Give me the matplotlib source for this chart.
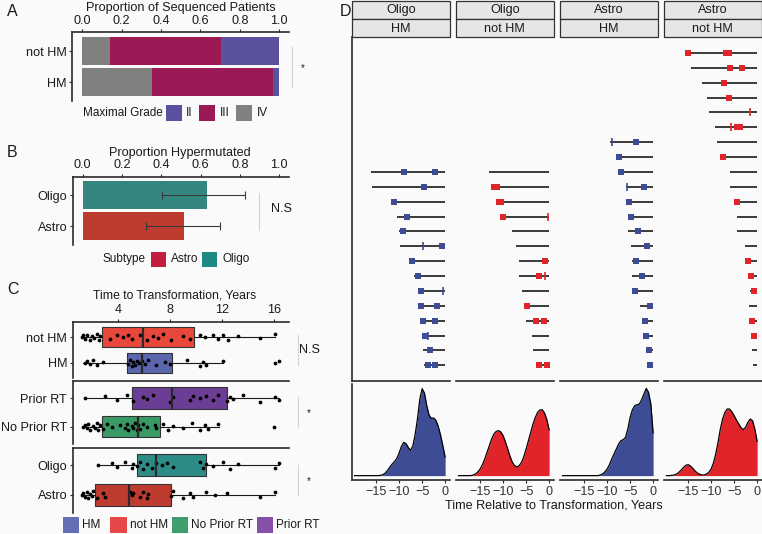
import matplotlib
matplotlib.use("Agg")
import matplotlib.pyplot as plt
from matplotlib.patches import Rectangle
from matplotlib.lines import Line2D

plt.rcParams['font.family'] = ['Liberation Sans', 'DejaVu Sans']
FS = 9.1
LFS = 8.5
plt.rcParams['font.size'] = FS

W, H = 762, 534
BG = '#FAFAFA'
TXT = '#1a1a1a'
AXC = '#2b2b2b'

# ---------------- Panel A data ----------------
a_groups = ['HM', 'not HM']
grade_labels = ['II', 'III', 'IV']
grade_IV = [0.354, 0.139]
grade_III = [0.616, 0.565]
grade_II = [0.030, 0.296]

# ---------------- Panel B data ----------------
b_groups = ['Astro', 'Oligo']
prop_hyper = [0.515, 0.635]
ci_low = [0.324, 0.404]
ci_high = [0.701, 0.826]

# ---------------- Panel C data ----------------
c_ticks = [4, 8, 12, 16]
# box statistics: q1, median, q3, whisker low, whisker high
box_not_hm = [2.72, 5.92, 9.83, 1.14, 16.05]
box_hm = [4.67, 5.79, 8.10, 1.31, 12.06]
box_prior_rt = [5.03, 8.14, 12.32, 1.44, 16.36]
box_no_prior_rt = [2.75, 5.54, 7.20, 1.19, 11.73]
box_oligo = [5.41, 6.89, 10.73, 2.47, 16.36]
box_astro = [2.21, 4.85, 8.02, 1.19, 16.03]

pts_not_hm = [1.19, 1.32, 1.47, 1.62, 1.83, 1.95, 2.16, 2.34, 2.49, 2.59, 3.36, 3.87, 4.39,
              4.77, 5.03, 5.66, 6.18, 6.69, 7.07, 7.45, 8.09, 8.99, 9.5, 10.27, 10.65, 11.29,
              11.68, 12.06, 12.44, 13.21, 14.87, 16.05]
pts_hm = [1.44, 1.62, 1.83, 2.03, 2.34, 2.85, 4.77, 4.9, 5.03, 5.15, 5.28, 5.41, 5.61, 5.79,
          6.05, 6.3, 6.94, 7.58, 7.97, 9.25, 10.27, 10.53, 10.78, 12.06, 16.05, 16.36]
pts_prior_rt = [1.44, 2.98, 3.87, 4.64, 5.15, 5.92, 6.18, 6.69, 7.97, 8.17, 9.5, 9.76, 10.27,
                10.78, 11.29, 11.68, 12.32, 12.57, 12.83, 13.59, 14.87, 16.03, 16.36]
pts_no_prior_rt = [1.32, 1.44, 1.57, 1.70, 1.83, 2.03, 2.21, 2.34, 2.47, 2.59, 2.85, 3.11, 3.49,
                   4.13, 4.51, 4.64, 4.77, 5.03, 5.15, 5.28, 5.41, 5.54, 5.66, 5.92, 6.18, 6.82,
                   6.94, 7.45, 7.84, 8.22, 8.99, 9.63, 10.27, 10.65, 10.91, 11.68, 16.0]
pts_oligo = [2.47, 3.49, 3.87, 4.51, 5.03, 5.15, 5.41, 5.66, 5.92, 6.18, 6.56, 6.94, 7.33, 7.71,
             8.22, 10.27, 10.53, 10.78, 11.29, 12.06, 12.57, 13.21, 16.03, 16.36]
pts_astro = [1.19, 1.32, 1.44, 1.57, 1.70, 1.83, 1.95, 2.08, 2.34, 2.85, 2.98, 4.9, 5.03, 5.15,
             5.66, 5.92, 6.18, 6.3, 8.09, 8.22, 8.99, 9.5, 9.76, 10.78, 11.42, 12.32, 14.87, 16.03]

# ---------------- Panel D data ----------------
facet_subtype = ['Oligo', 'Oligo', 'Astro', 'Astro']
facet_hm = ['HM', 'not HM', 'HM', 'not HM']
d_ticks = [-15, -10, -5, 0]

oligo_hm_start = [-16.1, -15.8, -11.8, -10.5, -10.1, -9.9, -7.6, -6.7, -5.9, -5.8, -5.4, -4.9, -4.9, -4.6]
oligo_hm_samples = [[-9.0, -2.3], [-4.7], [-11.2], [-8.3], [-9.2], [-0.7], [-7.2], [-5.9], [-5.2],
                    [-5.3, -1.7], [-4.9, -2.2], [-4.4], [-3.3], [-3.8, -2.1]]
oligo_hm_other = [[], [], [], [], [], [-4.9], [], [], [-0.5], [], [], [-3.8], [], []]

oligo_nhm_start = [-13.0, -12.4, -11.3, -10.4, -8.1, -7.2, -6.6, -6.6, -5.8, -5.5, -5.1, -3.8, -3.5, -2.6]
oligo_nhm_samples = [[], [-12.0, -11.3], [-11.0, -10.5], [-10.0], [], [], [-0.9], [-2.3], [], [-4.9],
                     [-2.8, -1.1], [], [], [-2.1, -0.5]]
oligo_nhm_other = [[], [], [], [-0.3], [], [], [], [-1.0], [], [], [], [], [], []]

astro_hm_start = [-9.3, -7.7, -7.4, -5.9, -5.7, -5.3, -5.5, -4.8, -4.5, -4.5, -4.2, -2.8, -2.3, -2.0, -1.6, -1.2]
astro_hm_samples = [[-3.8], [-7.4], [-7.0], [-2.0], [-5.2], [-4.8], [-3.2], [-1.4], [-3.8], [-2.5],
                    [-3.9], [-0.7], [-1.8], [-1.6], [-0.9], [-0.7]]
astro_hm_other = [[-9.0], [], [], [-5.6], [], [], [], [], [], [], [], [], [], [], [], []]

astro_nhm_start = [-15.3, -14.4, -12.0, -10.9, -10.4, -9.2, -8.7, -7.8, -5.9, -5.8, -4.7, -4.4, -4.3,
                   -2.7, -2.5, -2.0, -1.6, -1.7, -1.6, -1.2, -1.2, -1.0]
astro_nhm_samples = [[-15.0, -6.7, -6.1], [-5.8, -3.2], [-7.1], [-6.2], [], [-4.4, -3.7], [], [-7.4],
                     [], [], [-4.3], [], [], [], [-1.9], [-1.4], [-0.7], [], [-1.1], [-0.6], [], []]
astro_nhm_other = [[], [], [], [], [-1.5], [-5.6], [], [], [], [], [], [], [], [], [], [], [], [], [], [], [], []]

dens_x = [-19.7, -19.0, -18.5, -18.0, -17.5, -17.0, -16.5, -16.0, -15.5, -15.0, -14.5, -14.0,
          -13.5, -13.0, -12.5, -12.0, -11.5, -11.0, -10.5, -10.0, -9.5, -9.0, -8.5, -8.0,
          -7.5, -7.0, -6.5, -6.0, -5.5, -5.0, -4.5, -4.0, -3.5, -3.0, -2.5, -2.0, -1.5, -1.0,
          -0.5, 0.0]
dens_oligo_hm = [0, 0, 0, 0, 0, 0, 0, 0, 0, 0, 0, 1,
                 3, 8, 16, 26, 35, 42, 52, 68, 88, 100, 96, 84,
                 76, 90, 125, 172, 230, 261, 248, 210, 182, 172, 173, 166, 148, 122,
                 90, 56]
dens_oligo_nhm = [0, 0, 0, 0, 0, 0, 2, 5, 11, 20, 33, 50,
                  70, 90, 110, 125, 133, 135, 131, 120, 101, 80, 58, 40,
                  30, 26, 30, 40, 57, 80, 105, 130, 155, 175, 190, 197, 198, 188,
                  168, 138]
dens_astro_hm = [0, 0, 0, 0, 0, 0, 0, 0, 0, 0, 0, 0,
                 0, 0, 0, 0, 2, 5, 11, 20, 33, 50, 65, 80,
                 95, 105, 108, 115, 140, 175, 198, 210, 213, 215, 228, 245, 262, 250,
                 215, 128]
dens_astro_nhm = [0, 0, 1, 2, 5, 10, 17, 25, 31, 33, 29, 22,
                  14, 8, 4, 2, 2, 5, 10, 20, 38, 65, 100, 140,
                  170, 190, 200, 200, 192, 180, 167, 155, 144, 138, 145, 160, 170, 165,
                  140, 103]

# ---------------- helpers ----------------
fig = plt.figure(figsize=(W / 100, H / 100), dpi=100, facecolor=BG)


def ax_px(x0, y0, x1, y1):
    ax = fig.add_axes([x0 / W, 1 - y1 / H, (x1 - x0) / W, (y1 - y0) / H])
    ax.set_facecolor('none')
    return ax


def rect_px(x0, y0, x1, y1, fc, ec='none', lw=0):
    fig.add_artist(Rectangle((x0 / W, 1 - y1 / H), (x1 - x0) / W, (y1 - y0) / H,
                             transform=fig.transFigure, facecolor=fc, edgecolor=ec, linewidth=lw))


def text_px(x, y, s, ha='center', va='center', **kw):
    kw.setdefault('color', TXT)
    fig.text(x / W, 1 - y / H, s, ha=ha, va=va, **kw)


def vline_px(x, y0, y1, color='#d4d4d4', lw=0.8):
    fig.add_artist(Line2D([x / W, x / W], [1 - y0 / H, 1 - y1 / H], transform=fig.transFigure,
                          color=color, linewidth=lw))


def style_lt(ax, top=True):
    for s in ['right', 'bottom']:
        ax.spines[s].set_visible(False)
    ax.spines['left'].set_color(AXC)
    ax.spines['left'].set_linewidth(1.2)
    ax.spines['top'].set_color(AXC)
    ax.spines['top'].set_linewidth(1.2)
    ax.spines['top'].set_visible(top)
    ax.tick_params(axis='both', colors=AXC, labelcolor=TXT, length=2.5, width=0.8, pad=1.5,
                   labelsize=FS)


# ================= Panel A =================
text_px(7, 11, 'A', ha='left', fontsize=11.5)
axA = ax_px(72.4, 32.3, 289, 100.9)
ya = [1, 2]
c_IV, c_III, c_II = '#808080', '#9B1A55', '#5B529F'
axA.barh(ya, grade_IV, left=0, height=0.9, color=c_IV)
axA.barh(ya, grade_III, left=grade_IV, height=0.9, color=c_III)
axA.barh(ya, grade_II, left=[a + b for a, b in zip(grade_IV, grade_III)], height=0.9, color=c_II)
axA.set_xlim(-0.05, 1.05)
axA.set_ylim(0.4, 2.6)
axA.set_yticks(ya)
axA.set_yticklabels(a_groups)
axA.xaxis.tick_top()
axA.set_xticks([0, 0.2, 0.4, 0.6, 0.8, 1.0])
axA.set_xticklabels(['0.0', '0.2', '0.4', '0.6', '0.8', '1.0'])
style_lt(axA)
text_px(180.7, 7.5, 'Proportion of Sequenced Patients')
vline_px(292, 47, 87)
text_px(303, 68, '*', fontsize=7)
text_px(83, 112.5, 'Maximal Grade', ha='left', fontsize=LFS)
for (x0, lab, col) in [(165.7, 'II', c_II), (199.5, 'III', c_III), (236, 'IV', c_IV)]:
    rect_px(x0, 105, x0 + 16, 120.5, col)
    text_px(x0 + 20.5, 112.5, lab, ha='left', fontsize=LFS)

# ================= Panel B =================
text_px(7, 153, 'B', ha='left', fontsize=11.5)
axB = ax_px(72.7, 176.7, 289, 244.7)
yb = [1, 2]
axB.barh(yb, prop_hyper, height=0.9, color=['#BE3B30', '#33877F'])
axB.errorbar(prop_hyper, yb, xerr=[[p - l for p, l in zip(prop_hyper, ci_low)],
                                    [h - p for p, h in zip(prop_hyper, ci_high)]],
             fmt='none', ecolor='#3a3a3a', elinewidth=0.8, capsize=3, capthick=0.8)
axB.set_xlim(-0.05, 1.05)
axB.set_ylim(0.4, 2.6)
axB.set_yticks(yb)
axB.set_yticklabels(b_groups)
axB.xaxis.tick_top()
axB.set_xticks([0, 0.2, 0.4, 0.6, 0.8, 1.0])
axB.set_xticklabels(['0.0', '0.2', '0.4', '0.6', '0.8', '1.0'])
style_lt(axB)
text_px(180, 153, 'Proportion Hypermutated')
vline_px(259.3, 193, 230)
text_px(281, 209, 'N.S')
text_px(102.7, 259.3, 'Subtype', ha='left', fontsize=LFS)
rect_px(150.7, 251.7, 166.3, 267, '#C21F3F')
text_px(170.7, 259.3, 'Astro', ha='left', fontsize=LFS)
rect_px(201.7, 251.7, 217.3, 267, '#1E8A83')
text_px(222.7, 259.3, 'Oligo', ha='left', fontsize=LFS)

# ================= Panel C =================
text_px(7, 290, 'C', ha='left', fontsize=11.5)
text_px(175, 296, 'Time to Transformation, Years', fontsize=8.8)
jit = [0.0, 0.07, -0.06, 0.1, -0.1, 0.03, -0.03, 0.12, -0.12, 0.05, -0.08, 0.09]
c_sub = [
    (321.7, 378.3, ['HM', 'not HM'], [box_hm, box_not_hm], [pts_hm, pts_not_hm],
     ['#5A66AD', '#E8483B'], 'N.S', True),
    (381.0, 443.8, ['No Prior RT', 'Prior RT'], [box_no_prior_rt, box_prior_rt],
     [pts_no_prior_rt, pts_prior_rt], ['#3A9A66', '#6C3D94'], '*', False),
    (447.7, 512.5, ['Astro', 'Oligo'], [box_astro, box_oligo], [pts_astro, pts_oligo],
     ['#BE3B30', '#2E8C86'], '*', False),
]
for (y0, y1, labs, boxes, pts, cols, sig, show_ticks) in c_sub:
    ax = ax_px(72.7, y0, 288.7, y1)
    stats = []
    for b in boxes:
        stats.append({'q1': b[0], 'med': b[1], 'q3': b[2], 'whislo': b[3], 'whishi': b[4],
                      'fliers': []})
    bp = ax.bxp(stats, positions=[1, 2], widths=0.75, orientation='horizontal',
                patch_artist=True, showcaps=False, showfliers=False,
                boxprops=dict(edgecolor='#333333', linewidth=0.8),
                whiskerprops=dict(color='#1a1a1a', linewidth=0.8),
                medianprops=dict(color='#2a2a2a', linewidth=1.6))
    for patch, c in zip(bp['boxes'], cols):
        patch.set_facecolor(c)
    for i, p in enumerate(pts):
        ys = [i + 1 + jit[k % len(jit)] for k in range(len(p))]
        ax.plot(p, ys, 'o', color='black', ms=2.7, mew=0)
    ax.set_xlim(0.5, 17.1)
    ax.set_ylim(0.4, 2.6)
    ax.set_yticks([1, 2])
    ax.set_yticklabels(labs)
    ax.xaxis.tick_top()
    style_lt(ax)
    if show_ticks:
        ax.set_xticks(c_ticks)
    else:
        ax.set_xticks([])
    fy = [(y0 + y1) / 2 - 15, (y0 + y1) / 2 + 15]
    vline_px(297.7, fy[0], fy[1])
    text_px(309, (y0 + y1) / 2 + (0 if sig == 'N.S' else 1), sig,
            fontsize=FS if sig == 'N.S' else 7)

for (x0, lab, col) in [(62.7, 'HM', '#6470B3'), (110.2, 'not HM', '#E54848'),
                       (171.7, 'No Prior RT', '#3E9E6C'), (256.7, 'Prior RT', '#864FA8')]:
    rect_px(x0, 517, x0 + 16.5, 533, col)
    text_px(x0 + 19.5, 525, lab, ha='left', fontsize=LFS)

# ================= Panel D =================
text_px(340, 12, 'D', ha='left', fontsize=11.5)
lefts = [352, 456, 560, 664]
fw = 97.5
starts = [oligo_hm_start, oligo_nhm_start, astro_hm_start, astro_nhm_start]
samples = [oligo_hm_samples, oligo_nhm_samples, astro_hm_samples, astro_nhm_samples]
others = [oligo_hm_other, oligo_nhm_other, astro_hm_other, astro_nhm_other]
dens = [dens_oligo_hm, dens_oligo_nhm, dens_astro_hm, dens_astro_nhm]
blue, red = '#3D4C95', '#E1232A'
fcols = [blue, red, blue, red]
dmax = max(max(d) for d in dens)

for f in range(4):
    x0 = lefts[f]
    # strips
    rect_px(x0, 1, x0 + fw, 19, '#E6E6E6', ec='#333333', lw=0.9)
    rect_px(x0, 19, x0 + fw, 37.3, '#E6E6E6', ec='#333333', lw=0.9)
    text_px(x0 + fw / 2, 10.3, facet_subtype[f], fontsize=FS)
    text_px(x0 + fw / 2, 28.5, facet_hm[f], fontsize=FS)

    # swimmer
    ax = ax_px(x0, 37.3, x0 + fw, 381)
    n = len(starts[f])
    for k in range(n):
        y = n - k
        ax.plot([starts[f][k], 0], [y, y], color='#1a1a1a', lw=1.2, solid_capstyle='butt', zorder=1)
        if samples[f][k]:
            ax.plot(samples[f][k], [y] * len(samples[f][k]), 's', color=fcols[f], ms=4.3, mew=0,
                    zorder=3)
        if others[f][k]:
            ax.plot(others[f][k], [y] * len(others[f][k]), '|', color=fcols[f], ms=5.5, mew=1.2,
                    zorder=3)
    ax.set_xlim(-20.25, 0.95)
    ax.set_ylim(-0.05, 23.05)
    ax.set_xticks([])
    ax.set_yticks([])
    for s in ['top', 'right']:
        ax.spines[s].set_visible(False)
    ax.spines['left'].set_visible(f == 0)
    for s in ['left', 'bottom']:
        ax.spines[s].set_color(AXC)
        ax.spines[s].set_linewidth(1.2)

    # density
    axd = ax_px(x0, 384, x0 + fw, 480)
    axd.fill_between(dens_x, dens[f], 0, color=fcols[f], lw=0)
    axd.plot(dens_x, dens[f], color='black', lw=0.9)
    axd.set_xlim(-20.25, 0.95)
    axd.set_ylim(-0.05 * dmax, 1.05 * dmax)
    axd.set_yticks([])
    axd.set_xticks(d_ticks)
    axd.set_xticklabels(['\u221215', '\u221210', '\u22125', '0'])
    axd.tick_params(axis='x', colors=AXC, labelcolor='#333333', length=2.5, width=0.8, pad=2,
                    labelsize=FS)
    for s in ['top', 'right']:
        axd.spines[s].set_visible(False)
    axd.spines['left'].set_visible(f == 0)
    for s in ['left', 'bottom']:
        axd.spines[s].set_color(AXC)
        axd.spines[s].set_linewidth(1.2)

text_px(554, 505, 'Time Relative to Transformation, Years', fontsize=FS)

fig.savefig('out.png', dpi=100, facecolor=BG)
